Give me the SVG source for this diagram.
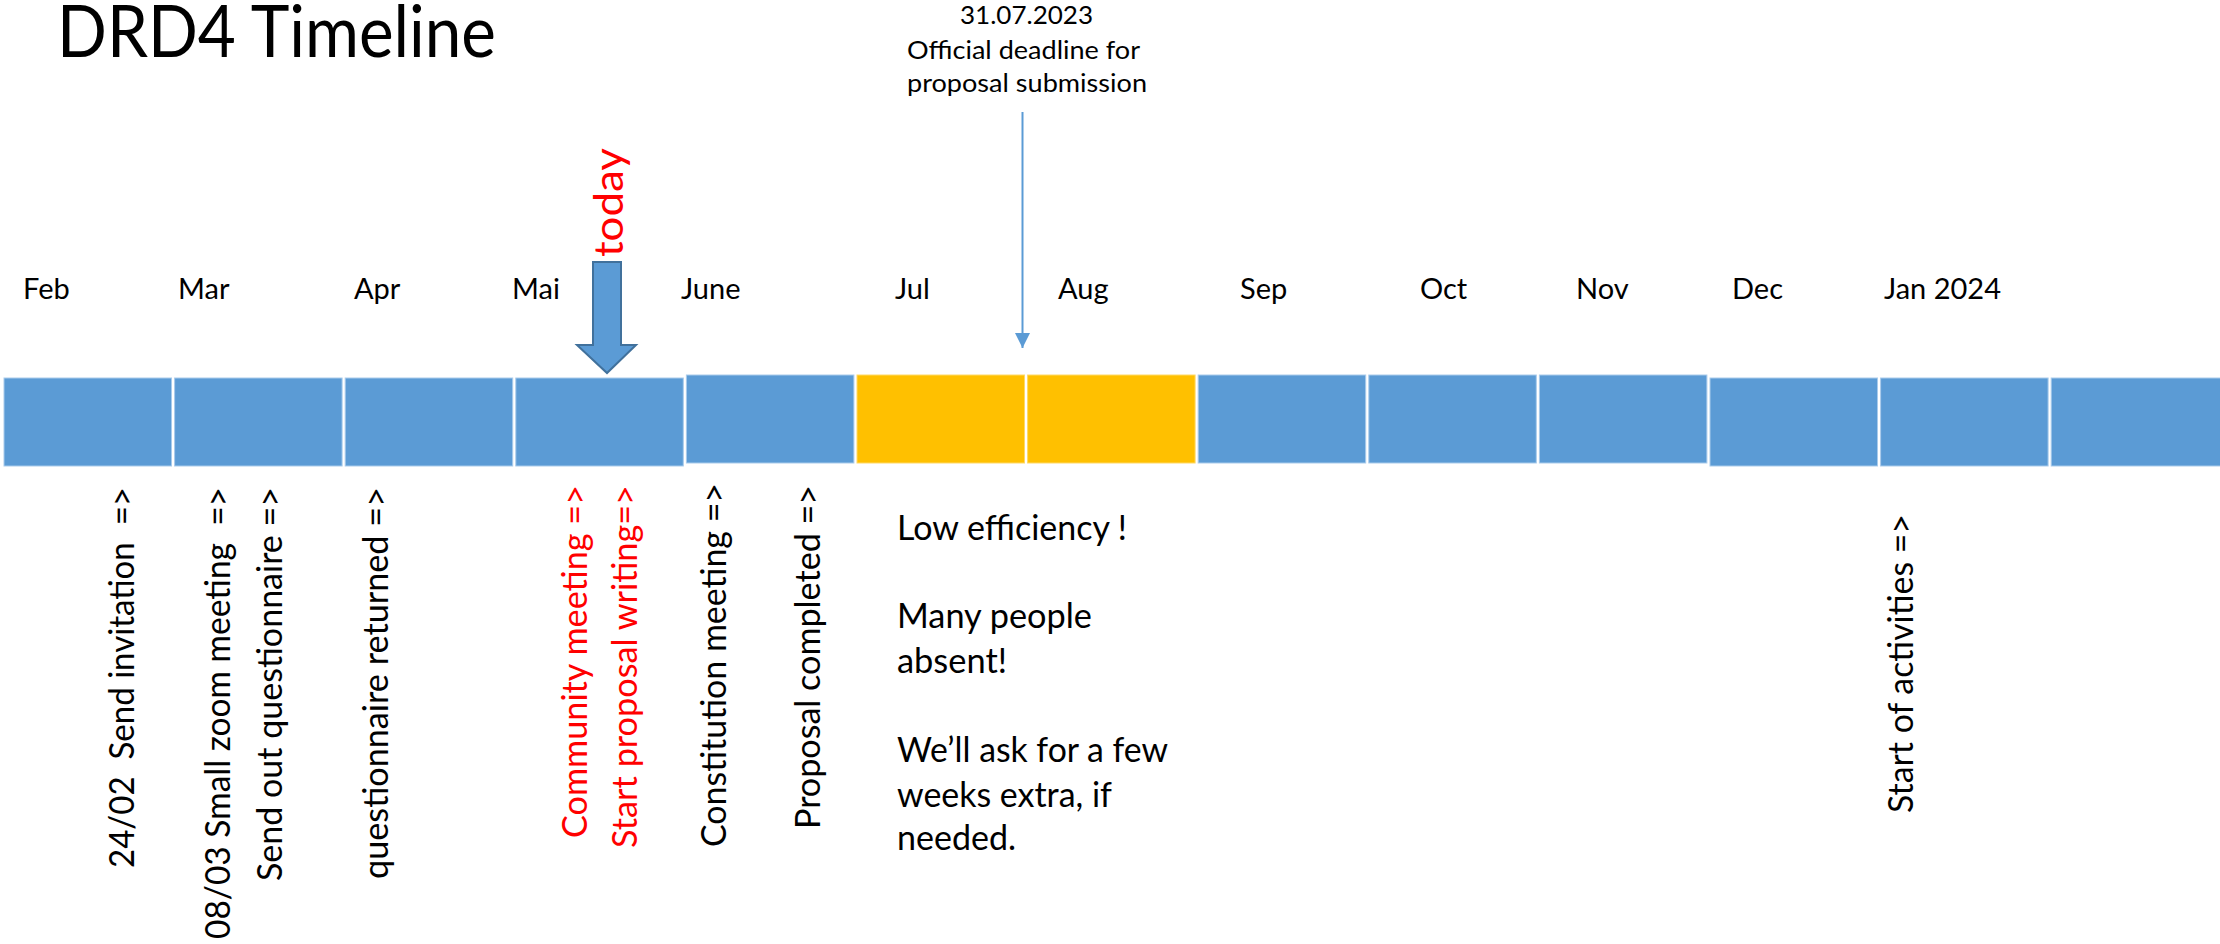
<svg xmlns="http://www.w3.org/2000/svg" width="2220" height="944" viewBox="0 0 2220 944">
  <style>
    text { font-family: Lato, "Open Sans", "Liberation Sans", sans-serif; fill: #000; white-space: pre; }
    .title { font-size: 72px; }
    .month { font-size: 29px; }
    .dl { font-size: 25.5px; text-anchor: middle; }
    .vt { font-size: 34px; text-anchor: end; }
    .red { fill: #FF0000; }
    .note { font-size: 34px; }
    .blue { fill: #5B9BD5; stroke: #A9CBEB; stroke-width: 1; }
    .yellow { fill: #FFC000; stroke: #FFD966; stroke-width: 1; }
    .conn { stroke: #5B9BD5; stroke-width: 2; fill: none; }
  </style>
  <defs>
    <marker id="ah" markerUnits="userSpaceOnUse" markerWidth="16" markerHeight="16" refX="15" refY="7.5" orient="auto">
      <path d="M0,0 L15,7.5 L0,15 z" fill="#5B9BD5"/>
    </marker>
  </defs>
  <rect width="2220" height="944" fill="#ffffff"/>

  <g id="title">
    <text class="title" x="57" y="57" textLength="439" lengthAdjust="spacingAndGlyphs">DRD4 Timeline</text>
  </g>

  <g id="months">
    <text class="month" x="23" y="299">Feb</text>
    <text class="month" x="178" y="299">Mar</text>
    <text class="month" x="354" y="299">Apr</text>
    <text class="month" x="512" y="299">Mai</text>
    <text class="month" x="681" y="299">June</text>
    <text class="month" x="895" y="299">Jul</text>
    <text class="month" x="1058" y="299">Aug</text>
    <text class="month" x="1240" y="299">Sep</text>
    <text class="month" x="1420" y="299">Oct</text>
    <text class="month" x="1576" y="299">Nov</text>
    <text class="month" x="1732" y="299">Dec</text>
    <text class="month" x="1884" y="299">Jan 2024</text>
  </g>

  <g id="timeline-bar">
    <rect id="box-feb" class="blue" x="4" y="378" width="167.5" height="88"/>
    <rect id="box-mar" class="blue" x="174.6" y="378" width="167.5" height="88"/>
    <rect id="box-apr" class="blue" x="345.2" y="378" width="167.5" height="88"/>
    <rect id="box-mai" class="blue" x="515.8" y="378" width="167.5" height="88"/>
    <rect id="box-jun" class="blue" x="686.4" y="375" width="167.5" height="88"/>
    <rect id="box-jul" class="yellow" x="857" y="375" width="167.5" height="88"/>
    <rect id="box-aug" class="yellow" x="1027.6" y="375" width="167.5" height="88"/>
    <rect id="box-sep" class="blue" x="1198.2" y="375" width="167.5" height="88"/>
    <rect id="box-oct" class="blue" x="1368.8" y="375" width="167.5" height="88"/>
    <rect id="box-nov" class="blue" x="1539.4" y="375" width="167.5" height="88"/>
    <rect id="box-dec" class="blue" x="1710" y="378" width="167.5" height="88"/>
    <rect id="box-jan" class="blue" x="1880.6" y="378" width="167.5" height="88"/>
    <rect id="box-feb2" class="blue" x="2051.2" y="378" width="172" height="88"/>
  </g>

  <g id="today">
    <polygon points="593,262 621,262 621,345 636,345 607,373 577,345 593,345" fill="#5B9BD5" stroke="#41719C" stroke-width="2" stroke-linejoin="miter"/>
    <text class="red" transform="translate(623,257) rotate(-90)" x="0" y="0" font-size="40" textLength="109" lengthAdjust="spacingAndGlyphs">today</text>
  </g>

  <g id="deadline">
    <text class="dl" x="1026.5" y="24" textLength="133" lengthAdjust="spacingAndGlyphs">31.07.2023</text>
    <text class="dl" x="1023.5" y="59" textLength="233" lengthAdjust="spacingAndGlyphs">Official deadline for</text>
    <text class="dl" x="1027" y="92" textLength="240" lengthAdjust="spacingAndGlyphs">proposal submission</text>
  </g>

  <g id="connectors">
    <line class="conn" x1="1022.5" y1="112" x2="1022.5" y2="348" marker-end="url(#ah)"/>
  </g>

  <g id="events">
    <text class="vt" transform="translate(134,487) rotate(-90)" textLength="381" lengthAdjust="spacingAndGlyphs" xml:space="preserve">24/02  Send invitation  =&gt;</text>
    <text class="vt" transform="translate(230,487) rotate(-90)" textLength="452" lengthAdjust="spacingAndGlyphs" xml:space="preserve">08/03 Small zoom meeting  =&gt;</text>
    <text class="vt" transform="translate(282,487) rotate(-90)" textLength="394" lengthAdjust="spacingAndGlyphs">Send out questionnaire =&gt;</text>
    <text class="vt" transform="translate(388,487) rotate(-90)" textLength="392" lengthAdjust="spacingAndGlyphs">questionnaire returned =&gt;</text>
    <text class="vt red" transform="translate(587,485) rotate(-90)" textLength="353" lengthAdjust="spacingAndGlyphs">Community meeting =&gt;</text>
    <text class="vt red" transform="translate(637,485) rotate(-90)" textLength="363" lengthAdjust="spacingAndGlyphs">Start proposal writing=&gt;</text>
    <text class="vt" transform="translate(726,483) rotate(-90)" textLength="364" lengthAdjust="spacingAndGlyphs">Constitution meeting =&gt;</text>
    <text class="vt" transform="translate(820,485) rotate(-90)" textLength="344" lengthAdjust="spacingAndGlyphs">Proposal completed =&gt;</text>
    <text class="vt" transform="translate(1913,514) rotate(-90)" textLength="299" lengthAdjust="spacingAndGlyphs">Start of activities =&gt;</text>
  </g>

  <g id="note">
    <text class="note" x="897" y="540" textLength="230" lengthAdjust="spacingAndGlyphs">Low efficiency !</text>
    <text class="note" x="897" y="628" textLength="195" lengthAdjust="spacingAndGlyphs">Many people</text>
    <text class="note" x="897" y="673" textLength="110" lengthAdjust="spacingAndGlyphs">absent!</text>
    <text class="note" x="897" y="762" textLength="271" lengthAdjust="spacingAndGlyphs">We’ll ask for a few</text>
    <text class="note" x="897" y="807" textLength="215" lengthAdjust="spacingAndGlyphs">weeks extra, if</text>
    <text class="note" x="897" y="850" textLength="119" lengthAdjust="spacingAndGlyphs">needed.</text>
  </g>
</svg>
